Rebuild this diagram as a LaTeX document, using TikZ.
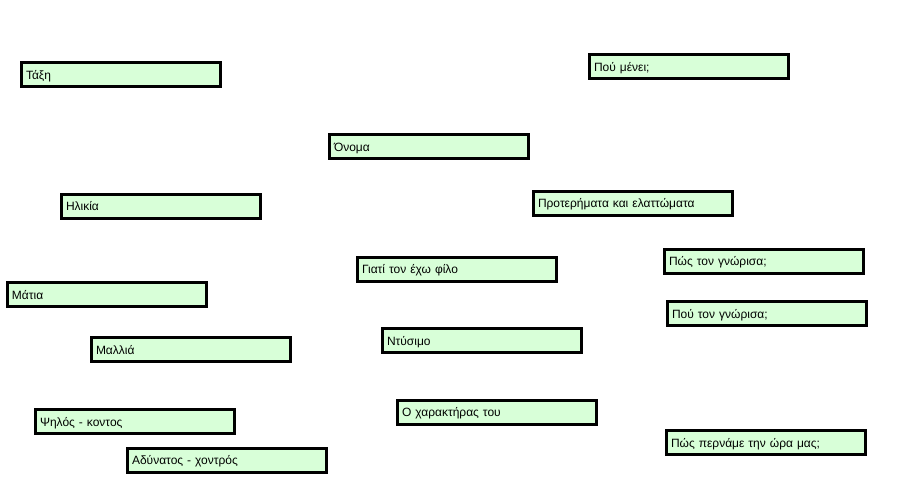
\documentclass[tikz,border=0pt]{standalone}
\usepackage{fontspec}
\setmainfont{Liberation Sans}
\usepackage{tikz}
\usepackage{xcolor}
\definecolor{boxgreen}{RGB}{216,255,216}

\begin{document}
\begin{tikzpicture}[
    x=1pt, y=-1pt,
    topic/.style={draw=black, line width=3pt, fill=boxgreen,
                  minimum height=24pt, text width=190pt, inner xsep=4.5pt,
                  text height=11pt, text depth=1.5pt,
                  align=left, font=\fontsize{12}{14}\selectfont}
]
\useasboundingbox (0,0) rectangle (907,500);
\node[topic] (taxi) at (121, 74.5) {Τάξη};
\node[topic] (poumenei) at (689, 67) {Πού μένει;};
\node[topic] (onoma) at (429, 146.5) {Όνομα};
\node[topic] (ilikia) at (161, 206) {Ηλικία};
\node[topic] (proterimata) at (633, 203) {Προτερήματα και ελαττώματα};
\node[topic] (pos) at (764, 261) {Πώς τον γνώρισα;};
\node[topic] (giati) at (457, 269) {Γιατί τον έχω φίλο};
\node[topic] (matia) at (107, 294.5) {Μάτια};
\node[topic] (pou) at (767, 313.5) {Πού τον γνώρισα;};
\node[topic] (ntysimo) at (482, 340.5) {Ντύσιμο};
\node[topic] (mallia) at (191, 349.5) {Μαλλιά};
\node[topic] (xaraktiras) at (497, 412) {Ο χαρακτήρας του};
\node[topic] (psilos) at (135, 421.5) {Ψηλός - κοντος};
\node[topic] (wra) at (766, 442.5) {Πώς περνάμε την ώρα μας;};
\node[topic] (adynatos) at (227, 460) {Αδύνατος - χοντρός};
\end{tikzpicture}
\end{document}
